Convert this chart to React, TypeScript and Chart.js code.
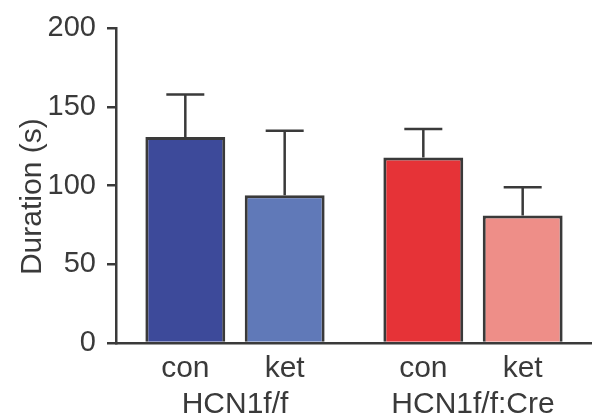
import React, { useEffect, useRef } from "react";
import { Chart, registerables } from "chart.js";

Chart.register(...registerables);

const groups = ["HCN1f/f", "HCN1f/f:Cre"];
const treatments = ["con", "ket"];
const conValues = [131, 118];
const ketValues = [94, 81];
const conErrors = [27, 18];
const ketErrors = [41, 18];
const yTicks = [0, 50, 100, 150, 200];
const yTitle = "Duration (s)";

const conColors = ["#3D4A9A", "#E63337"];
const ketColors = ["#6079B8", "#EE8E88"];
const ink = "#3a3a3a";
const FONT = "'Liberation Sans', Arial, Helvetica, sans-serif";

const errors = [conErrors, ketErrors];

const overlay = {
  id: "overlay",
  afterDatasetsDraw(chart: any) {
    const ctx = chart.ctx;
    const y = chart.scales.y;
    const x = chart.scales.x;
    const ca = chart.chartArea;
    ctx.save();
    ctx.strokeStyle = ink;
    ctx.lineWidth = 2.5;
    ctx.fillStyle = ink;
    ctx.font = `30px ${FONT}`;
    ctx.textAlign = "center";
    ctx.textBaseline = "alphabetic";
    chart.data.datasets.forEach((ds: any, di: number) => {
      const meta = chart.getDatasetMeta(di);
      meta.data.forEach((bar: any, i: number) => {
        const top = y.getPixelForValue(ds.data[i] + errors[di][i]);
        ctx.beginPath();
        ctx.moveTo(bar.x, bar.y);
        ctx.lineTo(bar.x, top);
        ctx.moveTo(bar.x - 19, top);
        ctx.lineTo(bar.x + 19, top);
        ctx.stroke();
        ctx.fillText(treatments[di], bar.x, ca.bottom + 34);
      });
    });
    // group labels
    groups.forEach((g, i) => {
      ctx.fillText(g, x.getPixelForValue(i), ca.bottom + 70);
    });
    // y-axis title
    ctx.translate(41, (ca.top + ca.bottom) / 2 + 11);
    ctx.rotate(-Math.PI / 2);
    ctx.fillText(yTitle, 0, 0);
    ctx.restore();
  },
};

export default function App() {
  const ref = useRef<HTMLCanvasElement>(null);
  useEffect(() => {
    document.body.style.margin = "0";
    const chart = new Chart(ref.current!, {
      type: "bar",
      data: {
        labels: groups,
        datasets: [
          {
            label: treatments[0],
            data: conValues,
            backgroundColor: conColors,
            borderColor: ink,
            borderWidth: 3,
            categoryPercentage: 0.835,
            barPercentage: 0.804,
          },
          {
            label: treatments[1],
            data: ketValues,
            backgroundColor: ketColors,
            borderColor: ink,
            borderWidth: 3,
            categoryPercentage: 0.835,
            barPercentage: 0.804,
          },
        ],
      },
      options: {
        responsive: false,
        animation: false,
        layout: { padding: { top: 25, right: 0, left: 0, bottom: 0 } },
        plugins: { legend: { display: false }, tooltip: { enabled: false } },
        scales: {
          x: {
            grid: { display: false },
            border: { display: true, color: ink, width: 2.5 },
            ticks: { display: false },
            afterFit: (s: any) => {
              s.height = 74;
            },
          },
          y: {
            min: 0,
            max: 200,
            afterBuildTicks: (s: any) => {
              s.ticks = yTicks.map((v) => ({ value: v }));
            },
            grid: {
              display: true,
              drawOnChartArea: false,
              drawTicks: true,
              tickLength: 9,
              color: ink,
              lineWidth: 2.5,
            },
            border: { display: true, color: ink, width: 2.5 },
            ticks: {
              color: ink,
              font: { size: 29, family: FONT },
              padding: 11,
            },
            afterFit: (s: any) => {
              s.width = 116;
            },
          },
        },
      },
      plugins: [overlay],
    });
    return () => chart.destroy();
  }, []);
  return (
    <div style={{ width: 592, height: 417 }}>
      <canvas ref={ref} width={592} height={417} />
    </div>
  );
}
